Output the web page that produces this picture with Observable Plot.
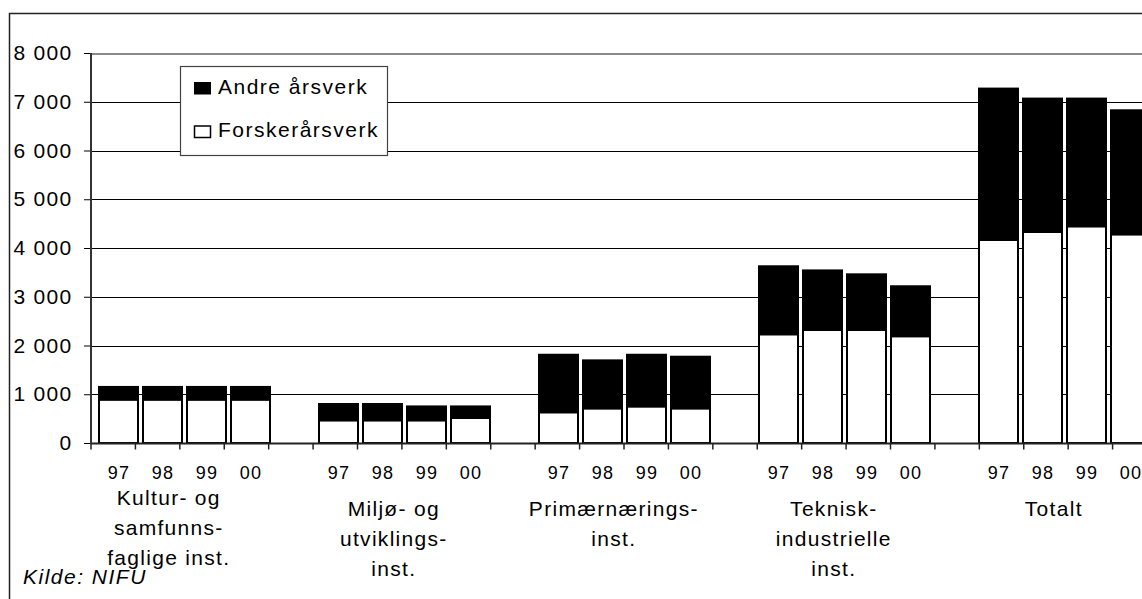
<!DOCTYPE html>
<html><head><meta charset="utf-8">
<script src="https://cdn.jsdelivr.net/npm/d3@7"></script>
<script src="https://cdn.jsdelivr.net/npm/@observablehq/plot@0.6"></script>
<style>
html,body{margin:0;padding:0;background:#fff;overflow:hidden;width:1142px;height:599px;}
#chart{position:relative;width:1142px;height:599px;overflow:hidden;}
</style></head><body><div id="chart"></div>
<script>
// ---- data ----
const groups = ["Kultur- og\nsamfunns-\nfaglige inst.", "Miljø- og\nutviklings-\ninst.", "Primærnærings-\ninst.", "Teknisk-\nindustrielle\ninst.", "Totalt"];
const years = ["97", "98", "99", "00"];
const forskerarsverk = [890, 890, 890, 890,  465, 465, 465, 515,  630, 710, 750, 710,  2230, 2320, 2320, 2190,  4165, 4330, 4445, 4280];
const andreArsverk   = [260, 260, 260, 260,  335, 335, 285, 235,  1180, 985, 1060, 1060,  1395, 1220, 1140, 1025,  3105, 2735, 2620, 2545];
const yTicks = [0, 1000, 2000, 3000, 4000, 5000, 6000, 7000, 8000];
const seriesNames = ["Andre årsverk", "Forskerårsverk"];
const source = "Kilde: NIFU";

// ---- build tables ----
const slots = [];
groups.forEach((g, gi) => {
  years.forEach(y => slots.push(gi + "|" + y));
  if (gi < groups.length - 1) slots.push("gap" + gi);
});
const rows = [];
groups.forEach((g, gi) => years.forEach((y, yi) => {
  const i = gi * years.length + yi;
  rows.push({key: gi + "|" + y, gi, year: y, forsker: forskerarsverk[i], andre: andreArsverk[i], total: forskerarsverk[i] + andreArsverk[i]});
}));
const groupRows = groups.map((g, gi) => ({key: gi + "|" + years[2], label: g, gi}));

const FONT = '"Liberation Sans", Arial, Helvetica, sans-serif';
const W = 1180, H = 599, ML = 91, MR = 23, MT = 53, MB = 156;
const step = (W - ML - MR) / slots.length;

const plot = Plot.plot({
  width: W, height: H,
  marginLeft: ML, marginRight: MR, marginTop: MT, marginBottom: MB,
  style: {fontFamily: FONT, fontSize: "21px", color: "#000", background: "transparent", maxWidth: "none", overflow: "visible", letterSpacing: "1.3px"},
  x: {type: "band", domain: slots, paddingInner: 0.12, paddingOuter: 0.06, axis: null, label: null},
  y: {domain: [0, 8000], axis: null, label: null},
  marks: [
    Plot.ruleY(yTicks.filter(d => d > 0 && d < 8000), {stroke: "#000", strokeWidth: 1, shapeRendering: "crispEdges"}),
    Plot.ruleY([8000], {stroke: "#8a8a8a", strokeWidth: 2, shapeRendering: "crispEdges"}),
    Plot.barY(rows, {x: "key", y1: 0, y2: "forsker", fill: "#fff", stroke: "#000", strokeWidth: 2}),
    Plot.barY(rows, {x: "key", y1: "forsker", y2: "total", fill: "#000", stroke: "#000", strokeWidth: 2}),
    Plot.ruleY([0], {stroke: "#222", strokeWidth: 2}),
    Plot.axisY(yTicks, {tickSize: 7, tickPadding: 12, fontSize: 21, label: null,
      tickFormat: d => d3.format(",")(d).replace(/,/g, " ")}),
    Plot.axisX(rows.map(d => d.key), {tickSize: 0, tickPadding: 23, fontSize: 18, label: null,
      tickFormat: d => d.split("|")[1]}),
    Plot.text(groupRows.filter(d => d.gi === 0), {x: "key", text: "label", frameAnchor: "bottom", lineAnchor: "top",
      lineHeight: 30 / 21, fontSize: 21, dy: 40, dx: -step / 2 - 16}),
    Plot.text(groupRows.filter(d => d.gi !== 0), {x: "key", text: "label", frameAnchor: "bottom", lineAnchor: "top",
      lineHeight: 30 / 21, fontSize: 21, dy: 51, dx: -step / 2 - 11})
  ]
});
document.getElementById("chart").appendChild(plot);

// ---- decorations ----
const svg = d3.select(plot);
const xs = plot.scale("x");
const r0 = xs.range[0], r1 = xs.range[1];
const y = plot.scale("y");
const y0 = y.apply(0), yTop = y.apply(8000);

// outer frame (behind everything)
svg.insert("rect", ":first-child")
  .attr("x", 9.5).attr("y", 13.5).attr("width", 1400).attr("height", 800)
  .attr("fill", "none").attr("stroke", "#222").attr("stroke-width", 1.5);

// y axis line
svg.append("line").attr("x1", r0).attr("x2", r0).attr("y1", yTop).attr("y2", y0 + 1)
  .attr("stroke", "#333").attr("stroke-width", 2);

// x boundary ticks
const g = svg.append("g").attr("stroke", "#222").attr("stroke-width", 1.5);
for (let i = 0; i <= slots.length; i++) {
  const x = r0 + i * (r1 - r0) / slots.length;
  g.append("line").attr("x1", x).attr("x2", x).attr("y1", y0).attr("y2", y0 + 6.5);
}

// legend
const lg = svg.append("g").attr("font-family", FONT).attr("font-size", 21)
  .attr("text-anchor", "start").style("letter-spacing", "1.5px");
lg.append("rect").attr("x", 180.5).attr("y", 66.5).attr("width", 207).attr("height", 89)
  .attr("fill", "#fff").attr("stroke", "#444").attr("stroke-width", 1.2);
lg.append("rect").attr("x", 194).attr("y", 82).attr("width", 17).attr("height", 12.5).attr("fill", "#000");
lg.append("text").attr("x", 218).attr("y", 94).text(seriesNames[0]);
lg.append("rect").attr("x", 194.5).attr("y", 126).attr("width", 16).attr("height", 11.5)
  .attr("fill", "#fff").attr("stroke", "#000").attr("stroke-width", 1.5);
lg.append("text").attr("x", 218).attr("y", 137).text(seriesNames[1]);

// source
svg.append("text").attr("x", 23).attr("y", 584).attr("font-family", FONT).attr("font-size", 21)
  .attr("text-anchor", "start").attr("font-style", "italic").style("letter-spacing", "1.5px").text(source);
</script></body></html>
